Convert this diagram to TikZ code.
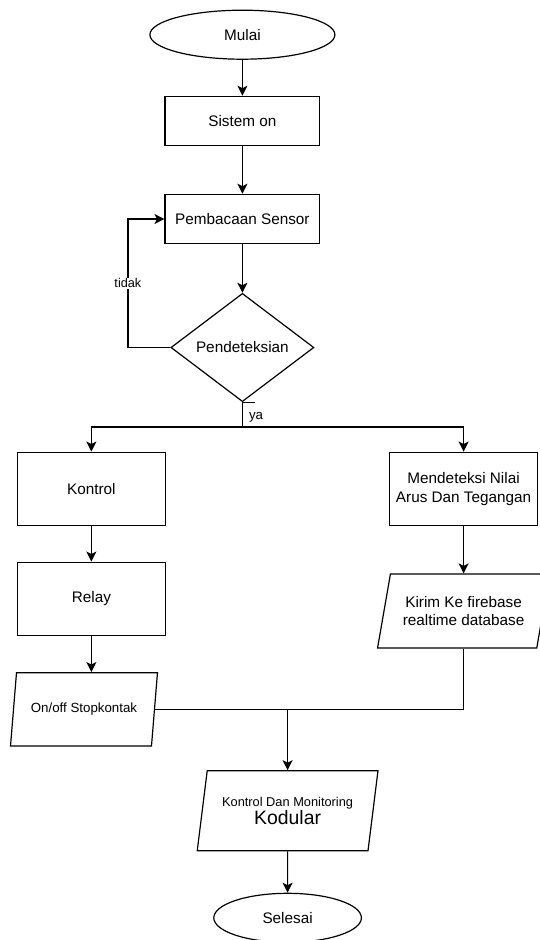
\documentclass[tikz,border=0pt]{standalone}
\usepackage{fontspec}
\setmainfont{Liberation Sans}
\usetikzlibrary{shapes.geometric,arrows.meta}

\begin{document}
\begin{tikzpicture}[x=1pt,y=-1pt,
  every node/.style={font=\fontsize{15.3}{18.3}\selectfont},
  garis/.style={line width=1.2pt},
  panah/.style={garis,-{Stealth[length=10pt,width=10pt,inset=2.5pt]}},
  kotak/.style={draw,garis,rectangle,align=center,
    minimum width=147.8,minimum height=73.7},
  terminal/.style={draw,garis,ellipse,inner sep=0pt},
  data/.style={draw,garis,trapezium,trapezium stretches=true,
    align=center,inner sep=1pt}]
  \def\cx{242.4} % main column
  \def\lx{91.4}  % left column
  \def\rx{463.6} % right column

  \useasboundingbox (0,0) rectangle (539,940);

  % Start and check loop
  \node[terminal,minimum width=185,minimum height=49] (mulai) at (\cx,34.7) {Mulai};
  \node[kotak,minimum width=154.7,minimum height=49.4] (sistem) at (\cx,121) {Sistem on};
  \node[kotak,minimum width=154.7,minimum height=49.4] (baca) at (\cx,219) {Pembacaan Sensor};
  \node[draw,garis,diamond,aspect=1.32,minimum width=143,minimum height=108.3,
    inner sep=0pt] (deteksi) at (\cx,347.5) {Pendeteksian};

  % Left branch
  \node[kotak] (kontrol) at (\lx,489) {Kontrol};
  \node[kotak] (relay) at (\lx,599) {Relay};
  \node[data,minimum width=147,minimum height=73.3,trapezium left angle=71.5,
    trapezium right angle=108.5,font=\fontsize{13.3}{16}\selectfont]
    (onoff) at (84,709.3) {On/off Stopkontak};

  % Right branch
  \node[kotak] (ukur) at (\rx,489) {Mendeteksi Nilai\\Arus Dan Tegangan};
  \node[data,minimum width=172.4,minimum height=74,trapezium left angle=71,
    trapezium right angle=109] (kirim) at (\rx,611) {Kirim Ke firebase\\realtime database};

  % End
  \node[data,minimum width=181,minimum height=80,trapezium left angle=74,
    trapezium right angle=106] (kodular) at (287.6,810.8)
    {{\fontsize{12.8}{14}\selectfont Kontrol Dan Monitoring}\\[-1pt]
     {\fontsize{19.4}{21}\selectfont Kodular}};
  \node[terminal,minimum width=147.6,minimum height=49] (selesai) at (287.6,917.8) {Selesai};

  % straight arrows
  \foreach \a/\b in {mulai/sistem,sistem/baca,baca/deteksi,kontrol/relay,
    ukur/kirim,kodular/selesai}
    {\draw[panah] (\a) -- (\b);}
  \draw[panah] (relay.south) -- (relay.south |- onoff.north);

  % tidak: back to reading
  \coordinate (balik) at (127.9,347.5);
  \draw[panah] (deteksi.west) -- (balik) |- (baca.west)
    node[pos=0.25,fill=white,inner sep=1pt,font=\fontsize{12.7}{14}\selectfont] (tidak) {tidak};

  % ya: split to both branches
  \coordinate (cabang) at (\cx,427);
  \draw[garis] (deteksi.south) -- ++(12.5,0);
  \draw[garis] (deteksi.south) -- (cabang)
    node[pos=0.6,anchor=west,xshift=5pt,inner sep=1pt,
      font=\fontsize{13.3}{15}\selectfont] (ya) {ya};
  \draw[panah] (cabang) -| (kontrol.north);
  \draw[panah] (cabang) -| (ukur.north);

  % join
  \coordinate (gabung) at (kodular.north |- onoff.east);
  \draw[garis] (onoff.east) -- (gabung);
  \draw[garis] (kirim.south) |- (gabung);
  \draw[panah] (gabung) -- (kodular.north);
\end{tikzpicture}
\end{document}
